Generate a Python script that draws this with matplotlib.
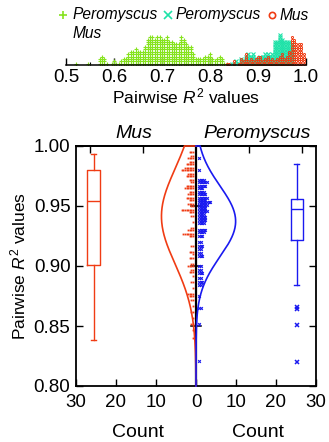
import numpy as np
import matplotlib
matplotlib.use('Agg')
import matplotlib.pyplot as plt
from matplotlib.lines import Line2D
from matplotlib.ticker import FuncFormatter, MultipleLocator

plt.rcParams['font.family'] = ['Liberation Sans', 'DejaVu Sans']
plt.rcParams['mathtext.fontset'] = 'custom'
plt.rcParams['mathtext.rm'] = 'Liberation Sans'
plt.rcParams['mathtext.it'] = 'Liberation Sans:italic'

# ---- top panel: dot histogram of pairwise R2 (bin width 0.005) ----
between_r2 = [0.520, 0.545, 0.570, 0.575, 0.580, 0.585, 0.595, 0.600, 0.605, 0.610,
              0.615, 0.620, 0.625, 0.630, 0.635, 0.640, 0.645, 0.650, 0.655, 0.660,
              0.665, 0.670, 0.675, 0.680, 0.685, 0.690, 0.695, 0.700, 0.705, 0.710,
              0.715, 0.720, 0.725, 0.730, 0.735, 0.740, 0.745, 0.750, 0.755, 0.760,
              0.765, 0.770, 0.775, 0.780, 0.785, 0.790, 0.795, 0.800, 0.805, 0.810,
              0.815, 0.820, 0.825, 0.830, 0.835]
between_n = [1, 1, 3, 4, 3, 1, 1, 2, 1, 1,
             2, 3, 3, 5, 6, 6, 7, 6, 6, 6,
             8, 11, 12, 12, 11, 12, 12, 11, 11, 12,
             10, 10, 9, 9, 9, 12, 11, 9, 8, 8,
             5, 3, 3, 3, 3, 4, 4, 5, 3, 2,
             3, 4, 3, 1, 1]

pero_r2 = [0.845, 0.850, 0.855, 0.860, 0.865, 0.870, 0.875, 0.880, 0.885, 0.890,
           0.895, 0.900, 0.905, 0.910, 0.915, 0.920, 0.925, 0.930, 0.935, 0.940,
           0.945, 0.950, 0.955, 0.960, 0.965, 0.970]
pero_n = [1, 1, 2, 1, 3, 2, 4, 5, 4, 5,
          3, 3, 4, 4, 5, 5, 4, 5, 10, 10,
          13, 11, 10, 10, 10, 9]

mus_r2 = [0.835, 0.840, 0.850, 0.860, 0.865, 0.870, 0.875, 0.880, 0.885, 0.890,
          0.895, 0.900, 0.905, 0.910, 0.915, 0.920, 0.925, 0.930, 0.935, 0.940,
          0.945, 0.950, 0.955, 0.960, 0.965, 0.970, 0.975, 0.980, 0.985, 0.990,
          0.995]
mus_n = [1, 1, 2, 1, 3, 2, 5, 2, 3, 2,
         3, 4, 4, 2, 3, 4, 2, 3, 2, 3,
         4, 5, 3, 4, 6, 12, 11, 9, 9, 9,
         5]

# ---- bottom panel: within-species rows of the dot plot ----
mus_rows = [0.995, 0.992, 0.990, 0.987, 0.985, 0.982, 0.980, 0.977, 0.975, 0.972,
            0.970, 0.967, 0.965, 0.962, 0.960, 0.957, 0.955, 0.952, 0.950, 0.947,
            0.945, 0.942, 0.937, 0.932, 0.930, 0.927, 0.925, 0.917, 0.912, 0.910,
            0.907, 0.902, 0.900, 0.897, 0.895, 0.892, 0.887, 0.882, 0.877, 0.875,
            0.872, 0.867, 0.862, 0.857, 0.852, 0.847, 0.840]
mus_rows_n = [3, 2, 4, 3, 5, 6, 8, 4, 5, 3,
              2, 5, 6, 3, 4, 5, 3, 4, 2, 8,
              3, 2, 1, 2, 4, 7, 3, 2, 3, 1,
              3, 2, 4, 2, 3, 1, 2, 1, 4, 3,
              2, 1, 2, 1, 2, 1, 1]

pero_rows = [0.990, 0.980, 0.972, 0.970, 0.967, 0.965, 0.962, 0.960, 0.957, 0.955,
             0.953, 0.951, 0.948, 0.946, 0.943, 0.941, 0.938, 0.936, 0.930, 0.928,
             0.925, 0.920, 0.917, 0.914, 0.911, 0.908, 0.900, 0.897, 0.894, 0.890,
             0.887, 0.884, 0.875, 0.865, 0.852, 0.821]
pero_rows_n = [1, 1, 4, 6, 5, 3, 4, 5, 6, 5,
               8, 6, 5, 6, 4, 5, 5, 4, 5, 4,
               3, 2, 3, 2, 2, 3, 2, 2, 3, 2,
               3, 2, 1, 2, 1, 1]

# box plot summaries
mus_box = dict(q1=0.901, med=0.954, q3=0.980, whislo=0.838, whishi=0.993, fliers=[])
pero_box = dict(q1=0.922, med=0.9475, q3=0.956, whislo=0.884, whishi=0.985,
                fliers=[0.866, 0.864, 0.851, 0.820])

GREEN = '#86e31e'
TEAL = '#1ee2a8'
RED = '#f03c14'
BLUE = '#1a1af0'

W, H = 329, 442
fig = plt.figure(figsize=(W / 100, H / 100), dpi=100)

# ================= top histogram =================
axh = fig.add_axes([66 / W, 1 - 65 / H, 240 / W, 40 / H])
for xs, ns, mk, col in [(between_r2, between_n, '+', GREEN),
                        (pero_r2, pero_n, 'x', TEAL),
                        (mus_r2, mus_n, 'o', RED)]:
    px, py = [], []
    for x, n in zip(xs, ns):
        for k in range(n):
            px.append(x)
            py.append(k + 0.5)
    if mk == 'o':
        axh.plot(px, py, ls='none', marker=mk, ms=1.5, mfc='none', mec=col, mew=0.7)
    else:
        axh.plot(px, py, ls='none', marker=mk, ms=2.4, color=col, mew=0.8)

axh.set_xlim(0.5, 1.0)
axh.set_ylim(0, 16.5)
for s in ['top', 'left', 'right']:
    axh.spines[s].set_visible(False)
axh.spines['bottom'].set_linewidth(1.1)
axh.set_yticks([])
axh.xaxis.set_major_locator(MultipleLocator(0.1))
axh.xaxis.set_minor_locator(MultipleLocator(0.05))
axh.tick_params(axis='x', which='major', direction='in', length=5, width=1, labelsize=13.5, pad=3)
axh.tick_params(axis='x', which='minor', direction='in', length=2.5, width=0.8)
axh.xaxis.set_major_formatter(FuncFormatter(lambda v, p: f'{v:.1f}'))
axh.set_xlabel(r'Pairwise $R^{\mathrm{2}}$ values', fontsize=12.5, labelpad=0)

# legend, laid out by hand (first label spans two lines)
leg_y = 1 - 15 / H
leg_items = [('+', GREEN, 'Peromyscus', 63, 73),
             ('x', TEAL, 'Peromyscus', 168, 176),
             ('o', RED, 'Mus', 272, 280)]
for mk, col, lab, mx, tx in leg_items:
    if mk == 'o':
        h = Line2D([mx / W], [leg_y], transform=fig.transFigure, ls='none', marker='o',
                   ms=4.5, mfc='none', mec=col, mew=1.2)
    else:
        h = Line2D([mx / W], [leg_y], transform=fig.transFigure, ls='none', marker=mk,
                   ms=5.5, color=col, mew=1.2)
    fig.add_artist(h)
    fig.text(tx / W, leg_y, lab, fontsize=11.2, style='italic', ha='left', va='center')
fig.text(73 / W, 1 - 34 / H, 'Mus', fontsize=11.2, style='italic', ha='left', va='center')

# ================= bottom violin / dot / box panel =================
ax = fig.add_axes([76 / W, 1 - 386 / H, 240 / W, 240 / H])
ax.set_xlim(-30, 30)
ax.set_ylim(0.80, 1.00)

# normal fits scaled to counts (histfit style)
grid = np.linspace(0.80, 1.00, 400)
for rows, ns, sign, col in [(mus_rows, mus_rows_n, -1, RED),
                            (pero_rows, pero_rows_n, 1, BLUE)]:
    vals = np.repeat(rows, ns)
    mu, sd = vals.mean(), vals.std(ddof=1)
    dens = np.exp(-0.5 * ((grid - mu) / sd) ** 2) / (sd * np.sqrt(2 * np.pi))
    dens = dens * len(vals) * 0.0058
    xs = np.concatenate([sign * dens, [0]])
    ys = np.concatenate([grid, [1.0]])
    ax.plot(xs, ys, color=col, lw=1.2, zorder=4, clip_on=False)

# centre line with its own ticks
ax.axvline(0, color='black', lw=1.6, zorder=3)
for t in [0.85, 0.90, 0.95]:
    ax.plot([-1.2, 1.2], [t, t], color='black', lw=1.1, zorder=3)

# stacked dots
for rows, ns, sign, col, mk in [(mus_rows, mus_rows_n, -1, RED, 's'),
                                (pero_rows, pero_rows_n, 1, BLUE, 'x')]:
    px, py = [], []
    for y, n in zip(rows, ns):
        for k in range(n):
            px.append(sign * (0.75 + 0.4 * k))
            py.append(y)
    if mk == 's':
        ax.plot(px, py, ls='none', marker='s', ms=1.3, color=col, mew=0, zorder=5)
    else:
        ax.plot(px, py, ls='none', marker='x', ms=2.0, color=col, mew=0.8, zorder=5)

# box plots
ax.bxp([mus_box], positions=[-25.6], widths=3.3, showfliers=False,
       boxprops=dict(color=RED, lw=1), medianprops=dict(color=RED, lw=1),
       whiskerprops=dict(color=RED, lw=1), capprops=dict(color=RED, lw=1),
       capwidths=1.2, manage_ticks=False)
ax.bxp([pero_box], positions=[25.2], widths=3.0, showfliers=True,
       boxprops=dict(color=BLUE, lw=1), medianprops=dict(color=BLUE, lw=1),
       whiskerprops=dict(color=BLUE, lw=1), capprops=dict(color=BLUE, lw=1),
       flierprops=dict(marker='x', ms=3.5, mec=BLUE, mew=1.1),
       capwidths=1.2, manage_ticks=False)

for s in ax.spines.values():
    s.set_linewidth(1.3)
ax.set_xticks([-30, -20, -10, 0, 10, 20, 30])
ax.xaxis.set_major_formatter(FuncFormatter(lambda v, p: f'{abs(v):.0f}'))
ax.set_yticks([0.80, 0.85, 0.90, 0.95, 1.00])
ax.yaxis.set_major_formatter(FuncFormatter(lambda v, p: f'{v:.2f}'))
ax.tick_params(direction='in', length=5, width=1, labelsize=13.5, right=True, top=False, pad=4)
ax.tick_params(axis='x', pad=6)
sec = ax.secondary_xaxis('top')
sec.set_xticks([-26.5, -13.25, 13.25, 26.5])
sec.tick_params(direction='in', length=5, width=1, labeltop=False)
sec.spines['top'].set_linewidth(1.3)
ax.set_ylabel(r'Pairwise $R^{\mathrm{2}}$ values', fontsize=12.5, labelpad=4)

ax.text(-15.5, 1.003, 'Mus', fontsize=14, style='italic', ha='center', va='bottom')
ax.text(15.2, 1.003, 'Peromyscus', fontsize=14, style='italic', ha='center', va='bottom')
ax.text(-14.5, -0.192, 'Count', transform=ax.get_xaxis_transform(), fontsize=14,
        ha='center', va='center')
ax.text(15.5, -0.192, 'Count', transform=ax.get_xaxis_transform(), fontsize=14,
        ha='center', va='center')

fig.savefig('out.png', dpi=100, facecolor='white')
